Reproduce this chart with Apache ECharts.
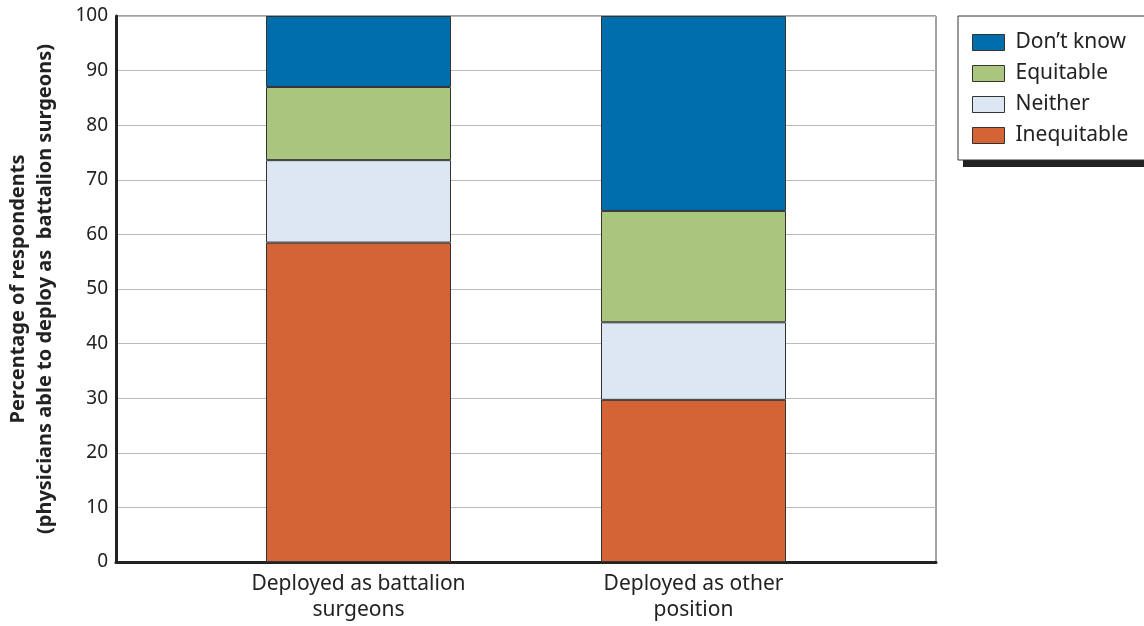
<!DOCTYPE html>
<html>
<head>
<meta charset="utf-8">
<script src="https://cdn.jsdelivr.net/npm/echarts@6/dist/echarts.min.js"></script>
<style>
  html, body { margin: 0; padding: 0; background: #fff; }
  #chart { width: 1144px; height: 626px; }
</style>
</head>
<body>
<div id="chart"></div>
<script>
// 数据
var categories = ['Deployed as battalion\nsurgeons', 'Deployed as other\nposition'];
var inequitable = [58.5, 29.7];
var neither = [15.1, 14.2];
var equitable = [13.4, 20.4];
var dontKnow = [13.0, 35.7];
var yTicks = { min: 0, max: 100, step: 10 };

(function () {
  var myChart = echarts.init(document.getElementById('chart'));
  var font = 'Noto Sans';
  var barStyle = function (c) {
    return { color: c, borderColor: '#333', borderWidth: 1 };
  };
  var option = {
    animation: false,
    textStyle: { fontFamily: font },
    // 图例的阴影块
    graphic: [
      { type: 'rect', left: 963, top: 22, z: 0, shape: { width: 200, height: 145 }, style: { fill: '#222' } }
    ],
    legend: {
      orient: 'vertical',
      left: 958,
      top: 16,
      z: 5,
      padding: [16, 40, 14, 14],
      icon: 'rect',
      itemWidth: 32,
      itemHeight: 16,
      itemGap: 10,
      backgroundColor: '#fff',
      borderColor: '#333',
      borderWidth: 1,
      itemStyle: { borderColor: '#333', borderWidth: 1 },
      textStyle: { color: '#222', fontSize: 21, fontFamily: font, padding: [0, 0, 0, 6] },
      data: ['Don\u2019t know', 'Equitable', 'Neither', 'Inequitable']
    },
    grid: [
      // 外框 + 网格线
      { left: 116, right: 208, top: 16, bottom: 64, show: true, borderColor: '#444', borderWidth: 1, outerBoundsMode: 'none' },
      // 柱子
      { left: 191, right: 283, top: 16, bottom: 64, outerBoundsMode: 'none' }
    ],
    xAxis: [
      {
        gridIndex: 0,
        type: 'value',
        min: 0,
        max: 1,
        axisLabel: { show: false },
        axisTick: { show: false },
        splitLine: { show: false },
        axisLine: { show: true, lineStyle: { color: '#222', width: 3 } }
      },
      {
        gridIndex: 1,
        type: 'category',
        data: categories,
        axisLine: { show: false },
        axisTick: { show: false },
        axisLabel: { color: '#222', fontSize: 21, lineHeight: 26, margin: 9, fontFamily: font }
      }
    ],
    yAxis: [
      {
        gridIndex: 0,
        type: 'value',
        min: yTicks.min,
        max: yTicks.max,
        interval: yTicks.step,
        name: 'Percentage of respondents\n(physicians able to deploy as  battalion surgeons)',
        nameLocation: 'middle',
        nameGap: 57,
        nameTextStyle: { color: '#222', fontSize: 20, fontWeight: 'bold', lineHeight: 27, fontFamily: font },
        axisLine: { show: true, lineStyle: { color: '#222', width: 3 } },
        axisTick: { show: false },
        axisLabel: { color: '#222', fontSize: 19, margin: 8, fontFamily: font },
        splitLine: { lineStyle: { color: '#bbb', width: 1 } }
      },
      {
        gridIndex: 1,
        type: 'value',
        min: yTicks.min,
        max: yTicks.max,
        show: false,
        splitLine: { show: false }
      }
    ],
    series: [
      { name: 'Inequitable', type: 'bar', stack: 'all', xAxisIndex: 1, yAxisIndex: 1, barWidth: 185, itemStyle: barStyle('#d46436'), data: inequitable },
      { name: 'Neither', type: 'bar', stack: 'all', xAxisIndex: 1, yAxisIndex: 1, barWidth: 185, itemStyle: barStyle('#dce7f3'), data: neither },
      { name: 'Equitable', type: 'bar', stack: 'all', xAxisIndex: 1, yAxisIndex: 1, barWidth: 185, itemStyle: barStyle('#aac57e'), data: equitable },
      { name: 'Don\u2019t know', type: 'bar', stack: 'all', xAxisIndex: 1, yAxisIndex: 1, barWidth: 185, itemStyle: barStyle('#006dac'), data: dontKnow }
    ]
  };
  myChart.setOption(option);
  window.addEventListener('resize', () => myChart.resize());
})();
</script>
</body>
</html>
